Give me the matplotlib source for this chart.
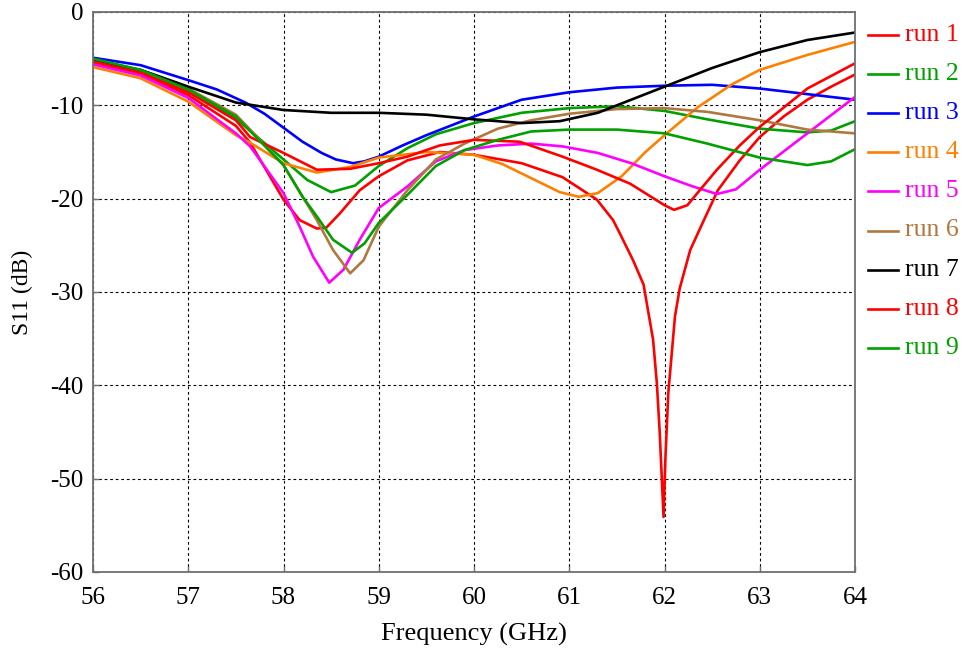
import matplotlib
matplotlib.use("Agg")
import matplotlib.pyplot as plt

plt.rcParams['font.family'] = ['Liberation Serif', 'DejaVu Serif']
plt.rcParams['axes.unicode_minus'] = False

# run 1 (red, deep notch near 62 GHz)
f1 = [56.0, 56.5, 57.0, 57.5, 57.65, 58.0, 58.17, 58.35, 58.45, 58.59, 58.8, 59.0, 59.3, 59.64, 60.0, 60.5,
      60.93, 61.29, 61.46, 61.53, 61.67, 61.78, 61.88, 61.92, 61.95, 61.99, 62.01, 62.04, 62.11, 62.16,
      62.27, 62.4, 62.56, 62.79, 63.0, 63.25, 63.5, 63.75, 64.0]
s1 = [-5.4, -6.6, -8.9, -12.2, -14.0, -20.1, -22.3, -23.2, -23.1, -21.6, -19.1, -17.6, -15.9, -15.0, -15.3, -16.2,
      -17.7, -20.1, -22.3, -23.7, -26.6, -29.2, -35.1, -39.8, -45.1, -54.1, -47.7, -40.8, -32.6, -29.6,
      -25.5, -22.6, -19.1, -15.9, -13.4, -11.2, -9.4, -8.0, -6.7]

# run 2 (green, shallow first dip)
f2 = [56.0, 56.5, 57.0, 57.5, 58.0, 58.25, 58.5, 58.75, 59.0, 59.3, 59.6, 60.0, 60.5, 61.0, 61.5,
      62.0, 62.45, 63.0, 63.5, 63.75, 64.0]
s2 = [-5.1, -6.3, -8.3, -11.4, -15.8, -18.0, -19.3, -18.6, -16.5, -14.6, -13.1, -11.9, -10.8, -10.3, -10.1,
      -10.6, -11.5, -12.5, -12.9, -12.7, -11.7]

# run 3 (blue)
f3 = [56.0, 56.5, 57.0, 57.3, 57.6, 57.8, 58.0, 58.2, 58.4, 58.55, 58.73, 58.85, 59.0, 59.25, 59.5, 59.75, 60.0,
      60.5, 61.0, 61.5, 62.0, 62.5, 63.0, 63.5, 64.0]
s3 = [-4.9, -5.7, -7.3, -8.3, -9.7, -10.9, -12.4, -13.9, -15.1, -15.8, -16.2, -16.0, -15.5, -14.3, -13.2, -12.2, -11.2,
      -9.4, -8.6, -8.1, -7.9, -7.8, -8.2, -8.8, -9.4]

# run 4 (orange)
f4 = [56.0, 56.5, 57.0, 57.5, 57.65, 58.0, 58.35, 58.7, 59.0, 59.5, 60.0, 60.3, 60.6, 60.9, 61.1, 61.3,
      61.55, 61.8, 62.0, 62.35, 62.7, 63.0, 63.5, 64.0]
s4 = [-5.9, -7.1, -9.6, -13.2, -14.0, -16.2, -17.2, -16.6, -15.6, -15.0, -15.3, -16.3, -17.8, -19.3, -19.8, -19.4,
      -17.6, -15.0, -13.2, -10.2, -7.8, -6.2, -4.6, -3.2]

# run 5 (magenta)
f5 = [56.0, 56.5, 57.0, 57.5, 57.65, 58.0, 58.17, 58.31, 58.48, 58.63, 58.8, 59.0, 59.3, 59.6, 59.9, 60.25,
      60.6, 60.93, 61.3, 61.65, 62.0, 62.3, 62.55, 62.75, 63.0, 63.5, 64.0]
s5 = [-5.6, -6.8, -9.2, -13.0, -14.4, -19.4, -23.0, -26.2, -29.0, -27.6, -24.4, -21.0, -18.7, -16.0, -14.8, -14.3,
      -14.1, -14.4, -15.1, -16.2, -17.6, -18.7, -19.5, -19.0, -16.9, -13.0, -9.1]

# run 6 (brown)
f6 = [56.0, 56.5, 57.0, 57.5, 57.65, 58.0, 58.35, 58.52, 58.7, 58.84, 59.0, 59.3, 59.6, 59.9, 60.25,
      60.6, 61.0, 61.5, 62.0, 62.45, 63.0, 63.5, 64.0]
s6 = [-5.3, -6.4, -8.2, -11.0, -12.6, -16.4, -22.3, -25.5, -28.0, -26.6, -23.0, -19.1, -15.8, -14.1, -12.5,
      -11.6, -10.9, -10.4, -10.3, -10.7, -11.6, -12.6, -13.0]

# run 7 (black)
f7 = [56.0, 56.5, 57.0, 57.5, 58.0, 58.5, 59.0, 59.5, 60.0, 60.5, 60.9, 61.3, 61.5, 61.85, 62.0,
      62.5, 63.0, 63.5, 64.0]
s7 = [-5.2, -6.2, -8.0, -9.7, -10.5, -10.8, -10.8, -11.0, -11.5, -11.9, -11.7, -10.8, -10.0, -8.6, -8.0,
      -6.0, -4.3, -3.0, -2.2]

# run 8 (red, shallow dips)
f8 = [56.0, 56.5, 57.0, 57.5, 57.65, 58.0, 58.35, 58.7, 59.0, 59.3, 59.64, 60.0, 60.48, 60.93, 61.29, 61.64,
      62.0, 62.1, 62.24, 62.37, 62.55, 62.79, 63.0, 63.5, 64.0]
s8 = [-5.3, -6.5, -8.6, -11.6, -13.4, -15.1, -16.9, -16.8, -16.2, -15.5, -14.3, -13.7, -13.9, -15.5, -16.9, -18.4,
      -20.7, -21.2, -20.7, -19.1, -16.9, -14.3, -12.3, -8.2, -5.5]

# run 9 (green, deep first dip)
f9 = [56.0, 56.5, 57.0, 57.5, 58.0, 58.2, 58.35, 58.52, 58.72, 58.85, 59.0, 59.3, 59.6, 59.9, 60.25, 60.6, 61.0,
      61.5, 62.0, 62.45, 63.0, 63.5, 63.75, 64.0]
s9 = [-5.0, -6.2, -8.3, -11.2, -16.4, -19.8, -21.9, -24.4, -25.8, -24.8, -22.6, -19.6, -16.5, -14.8, -13.7, -12.8, -12.6,
      -12.6, -13.0, -14.1, -15.6, -16.4, -16.0, -14.7]

labels = ['run 1', 'run 2', 'run 3', 'run 4', 'run 5', 'run 6', 'run 7', 'run 8', 'run 9']
colors = ['#FF0000', '#00A000', '#0000FF', '#FF8000', '#FF00FF', '#B07840', '#000000', '#FF0000', '#00A000']
freqs = [f1, f2, f3, f4, f5, f6, f7, f8, f9]
vals = [s1, s2, s3, s4, s5, s6, s7, s8, s9]

xticks = [56, 57, 58, 59, 60, 61, 62, 63, 64]
yticks = [0, -10, -20, -30, -40, -50, -60]

fig = plt.figure(figsize=(9.66, 6.52), dpi=100)
ax = fig.add_axes([93 / 966, 1 - 572 / 652, (855 - 93) / 966, (572 - 12) / 652])

for f, s, c in zip(freqs, vals, colors):
    ax.plot(f, s, color=c, lw=1.9, solid_joinstyle='round')

ax.set_xlim(56, 64)
ax.set_ylim(-60, 0)
ax.set_xticks(xticks)
ax.set_yticks(yticks)
ax.grid(True, color='black', linestyle=(0, (2.5, 2.5)), lw=0.8)
for sp in ax.spines.values():
    sp.set_color('#707070')
    sp.set_linewidth(1.3)
ax.tick_params(direction='in', length=4, width=1, color='#707070', labelsize=18)
ax.tick_params(axis='x', pad=11)
ax.tick_params(axis='y', pad=7)
ax.set_xlabel('Frequency (GHz)', fontsize=19, labelpad=10)
ax.set_ylabel('S11 (dB)', fontsize=17, labelpad=12)

# legend drawn at right in figure coordinates
for i, (lab, c) in enumerate(zip(labels, colors)):
    yp = 35 + 39.1 * i
    yf = 1 - yp / 652
    fig.lines.append(plt.Line2D([868 / 966, 898 / 966], [yf, yf], color=c, lw=1.9,
                                transform=fig.transFigure))
    fig.text(905 / 966, yf, lab, color=c, fontsize=18.5, va='center', ha='left')

fig.savefig('out.png', dpi=100)
